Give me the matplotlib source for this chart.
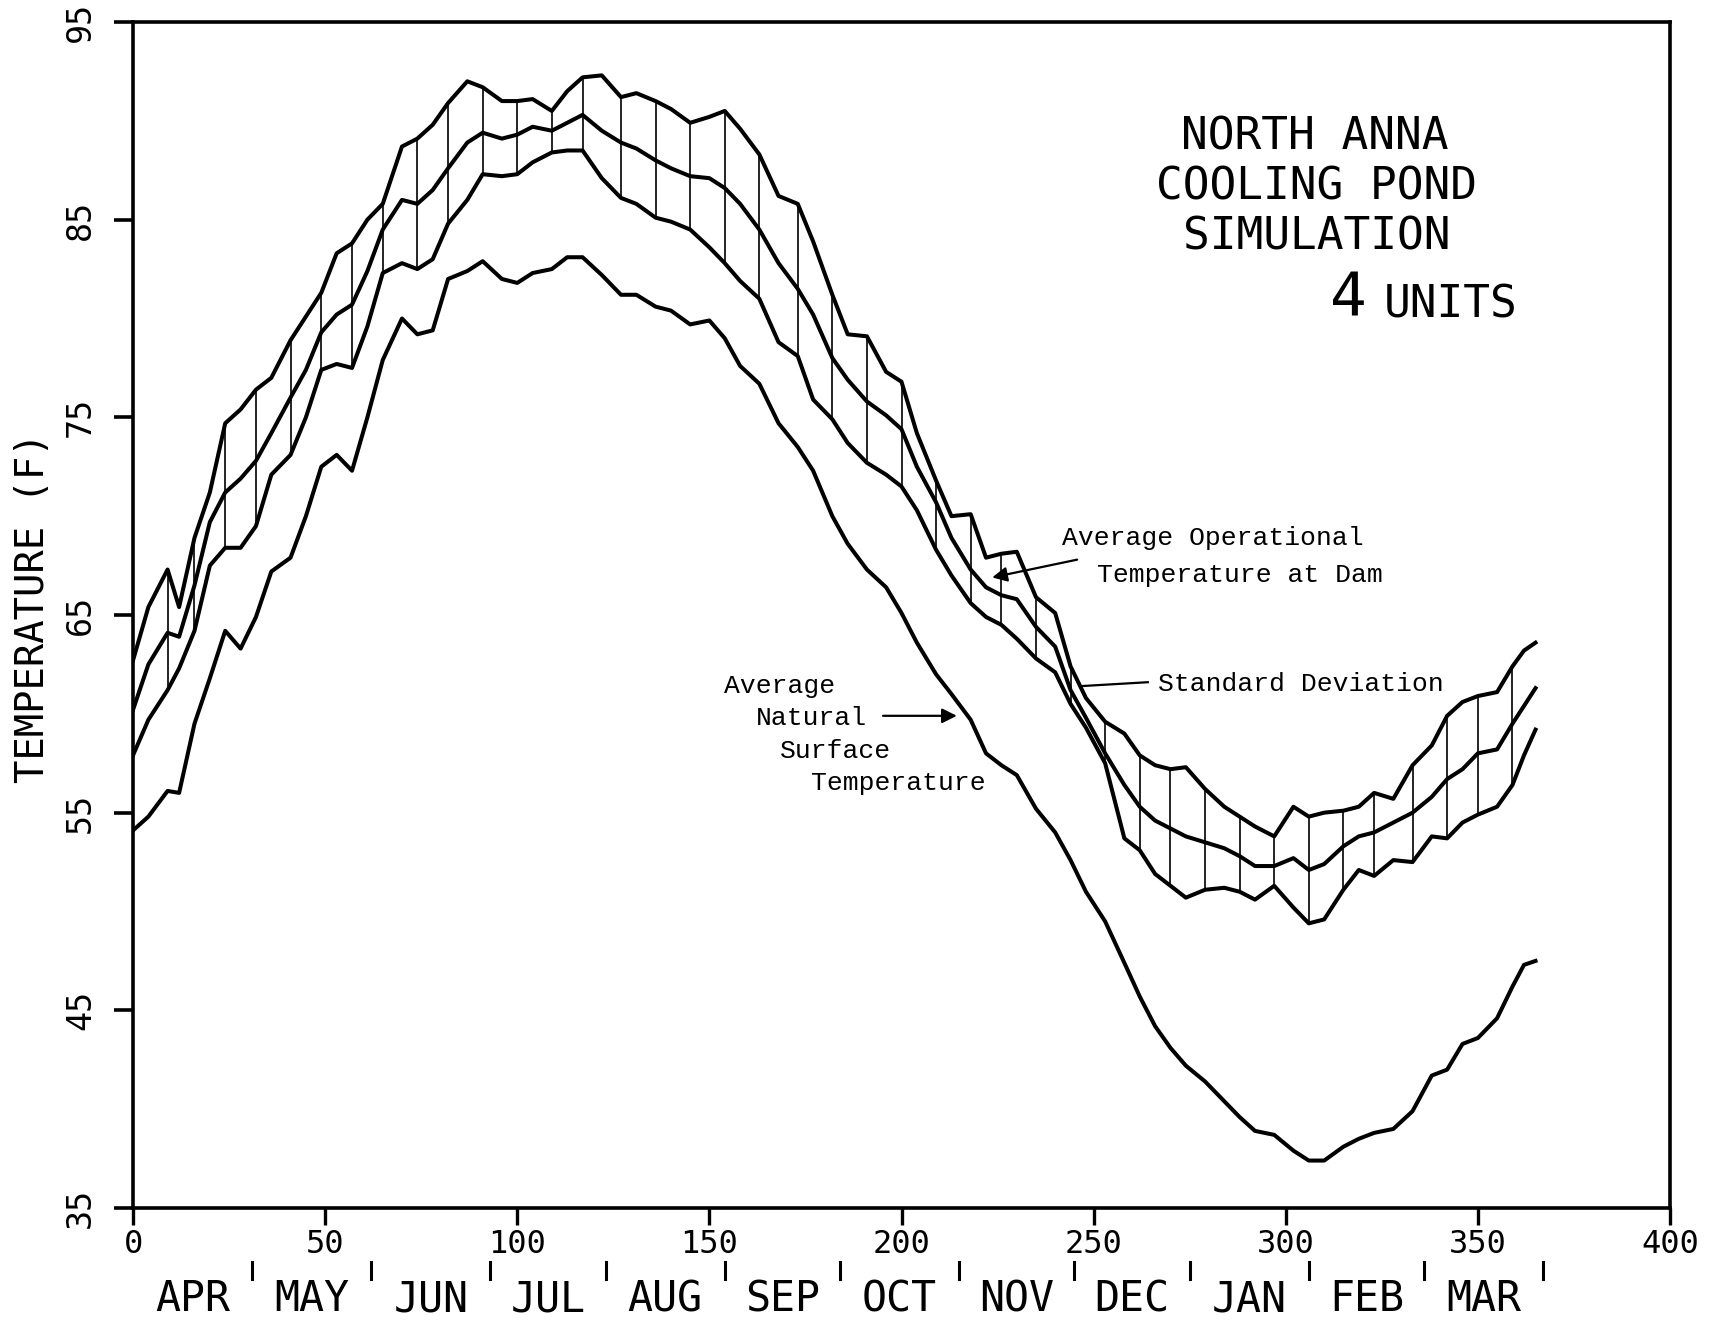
import numpy as np
import matplotlib.pyplot as plt
from matplotlib.transforms import blended_transform_factory

plt.rcParams['font.family'] = ['DejaVu Sans Mono']

# day of the water year (day 0 = 1 April)
day = [0, 4, 9, 12, 16, 20, 24, 28, 32, 36,
       41, 45, 49, 53, 57, 61, 65, 70, 74, 78,
       82, 87, 91, 96, 100, 104, 109, 113, 117, 122,
       127, 131, 136, 140, 145, 150, 154, 158, 163, 168,
       173, 177, 182, 186, 191, 196, 200, 204, 209, 213,
       218, 222, 226, 230, 235, 240, 244, 248, 253, 258,
       262, 266, 270, 274, 279, 284, 288, 292, 297, 302,
       306, 310, 315, 319, 323, 328, 333, 338, 342, 346,
       350, 355, 359, 362, 365]

# average operational temperature at dam + 1 standard deviation
upper = [62.7, 65.4, 67.3, 65.4, 68.9, 71.2, 74.7, 75.4, 76.4, 77.0,
         78.9, 80.1, 81.3, 83.3, 83.8, 85.0, 85.8, 88.7, 89.1, 89.8,
         90.9, 92.0, 91.7, 91.0, 91.0, 91.1, 90.5, 91.5, 92.2, 92.3,
         91.2, 91.4, 91.0, 90.6, 89.9, 90.2, 90.5, 89.6, 88.3, 86.2,
         85.8, 83.9, 81.2, 79.2, 79.1, 77.3, 76.8, 74.2, 71.8, 70.0,
         70.1, 67.9, 68.1, 68.2, 65.9, 65.1, 62.4, 60.8, 59.6, 59.0,
         57.9, 57.4, 57.2, 57.3, 56.2, 55.3, 54.8, 54.3, 53.8, 55.3,
         54.8, 55.0, 55.1, 55.3, 56.0, 55.7, 57.4, 58.4, 59.9, 60.6,
         60.9, 61.1, 62.4, 63.2, 63.6]

# average operational temperature at dam
mean = [60.2, 62.5, 64.1, 63.9, 66.5, 69.7, 71.2, 71.9, 72.8, 74.2,
        76.0, 77.4, 79.3, 80.2, 80.7, 82.4, 84.5, 86.0, 85.8, 86.5,
        87.6, 88.9, 89.4, 89.1, 89.3, 89.7, 89.5, 89.9, 90.3, 89.5,
        88.9, 88.6, 88.0, 87.6, 87.2, 87.1, 86.6, 85.8, 84.5, 82.8,
        81.5, 80.2, 78.0, 76.9, 75.8, 75.1, 74.4, 72.5, 70.7, 68.9,
        67.3, 66.4, 66.0, 65.8, 64.4, 63.4, 61.2, 59.8, 58.0, 56.4,
        55.3, 54.6, 54.2, 53.8, 53.5, 53.2, 52.8, 52.3, 52.3, 52.7,
        52.1, 52.4, 53.3, 53.8, 54.0, 54.5, 55.0, 55.8, 56.7, 57.2,
        58.0, 58.2, 59.5, 60.4, 61.3]

# average operational temperature at dam - 1 standard deviation
lower = [57.9, 59.7, 61.2, 62.3, 64.2, 67.5, 68.4, 68.4, 69.5, 72.1,
         73.1, 75.0, 77.4, 77.7, 77.5, 79.6, 82.3, 82.8, 82.5, 83.0,
         84.8, 86.0, 87.3, 87.2, 87.3, 87.9, 88.4, 88.5, 88.5, 87.1,
         86.1, 85.8, 85.1, 84.9, 84.5, 83.6, 82.8, 81.9, 81.0, 78.8,
         78.1, 75.9, 74.9, 73.7, 72.7, 72.1, 71.5, 70.3, 68.3, 67.0,
         65.6, 64.9, 64.5, 63.8, 62.8, 62.1, 60.5, 59.3, 57.5, 53.7,
         53.1, 51.9, 51.3, 50.7, 51.1, 51.2, 51.0, 50.6, 51.3, 50.2,
         49.4, 49.6, 51.1, 52.1, 51.8, 52.6, 52.5, 53.8, 53.7, 54.5,
         54.9, 55.3, 56.4, 57.9, 59.2]

# average natural surface temperature
natural = [54.1, 54.8, 56.1, 56.0, 59.5, 61.8, 64.2, 63.3, 64.9, 67.2,
           67.9, 70.0, 72.5, 73.1, 72.3, 75.0, 77.9, 80.0, 79.2, 79.4,
           82.0, 82.4, 82.9, 82.0, 81.8, 82.3, 82.5, 83.1, 83.1, 82.2,
           81.2, 81.2, 80.6, 80.4, 79.7, 79.9, 79.0, 77.6, 76.7, 74.7,
           73.5, 72.3, 70.0, 68.6, 67.3, 66.4, 65.1, 63.6, 62.0, 61.0,
           59.7, 58.0, 57.4, 56.9, 55.2, 54.0, 52.6, 51.0, 49.5, 47.4,
           45.7, 44.2, 43.1, 42.2, 41.4, 40.4, 39.6, 38.9, 38.7, 37.9,
           37.4, 37.4, 38.1, 38.5, 38.8, 39.0, 39.9, 41.7, 42.0, 43.3,
           43.6, 44.6, 46.2, 47.3, 47.5]

# days on which the deviation band is drawn as a bar
std_days = [9, 16, 24, 32, 41, 49, 57, 65, 74, 82, 91, 100, 109, 117,
            127, 136, 145, 154, 163, 173, 182, 191, 200, 209, 218, 226,
            235, 244, 253, 262, 270, 279, 288, 297, 306, 315, 323, 333,
            342, 350, 359]

xticks = [0, 50, 100, 150, 200, 250, 300, 350, 400]
yticks = [35, 45, 55, 65, 75, 85, 95]

months = ['APR', 'MAY', 'JUN', 'JUL', 'AUG', 'SEP',
          'OCT', 'NOV', 'DEC', 'JAN', 'FEB', 'MAR']
month_ends = [0, 31, 62, 93, 123, 154, 184, 215, 245, 275, 306, 336, 367]

fig = plt.figure(figsize=(17.1, 13.27), dpi=100)
ax = fig.add_axes([133/1710, 1 - 1208/1327, 1537/1710, 1186/1327])

lw = 2.9
ax.plot(day, upper, 'k', lw=lw)
ax.plot(day, mean, 'k', lw=lw)
ax.plot(day, lower, 'k', lw=lw)
ax.plot(day, natural, 'k', lw=lw)

d = np.array(day)
sel = np.isin(d, std_days)
ax.vlines(d[sel], np.array(lower)[sel], np.array(upper)[sel], colors='k', lw=1.2)

ax.set_xlim(0, 400)
ax.set_ylim(35, 95)
ax.set_xticks(xticks, [str(v) for v in xticks], fontsize=23)
ax.set_yticks(yticks, [str(v) for v in yticks], fontsize=24,
              rotation=90, va='center')
for s in ax.spines.values():
    s.set_linewidth(2.6)
ax.tick_params(axis='x', direction='out', length=12, width=2.4, pad=3)
ax.tick_params(axis='y', direction='out', length=14, width=2.6, pad=12)

fig.text(33/1710, 1 - 608/1327, 'TEMPERATURE (F)', rotation=90,
         ha='center', va='center', fontsize=28)

# month names under the day axis
tr = blended_transform_factory(ax.transData, fig.transFigure)
for i, m in enumerate(months):
    c = (month_ends[i] + month_ends[i + 1]) / 2
    ax.text(c, 0.021, m, transform=tr, ha='center', va='center',
            fontsize=30, clip_on=False)
for x in month_ends[1:]:
    ax.plot([x, x], [0.036, 0.049], transform=tr, color='k', lw=2.2,
            clip_on=False)

# title block
ax.text(0.769, 0.903, 'NORTH ANNA', transform=ax.transAxes, ha='center',
        va='center', fontsize=32)
ax.text(0.770, 0.861, 'COOLING POND', transform=ax.transAxes, ha='center',
        va='center', fontsize=32)
ax.text(0.770, 0.819, 'SIMULATION', transform=ax.transAxes, ha='center',
        va='center', fontsize=32)
ax.text(0.791, 0.766, '4', transform=ax.transAxes, ha='center',
        va='center', fontsize=44)
ax.text(0.857, 0.761, 'UNITS', transform=ax.transAxes, ha='center',
        va='center', fontsize=32)

# curve labels
tw = dict(family='Liberation Mono', fontsize=19, va='center', ha='left')
ax.text(241.8, 68.9, 'Average Operational', **tw)
ax.text(250.9, 67.0, 'Temperature at Dam', **tw)
ax.annotate('', xy=(223.6, 66.9), xytext=(245.7, 67.8),
            arrowprops=dict(arrowstyle='-|>', color='k', lw=1.6,
                            mutation_scale=22, shrinkA=0, shrinkB=0))

ax.text(266.8, 61.5, 'Standard Deviation', **tw)
ax.plot([264.1, 246.5], [61.6, 61.4], color='k', lw=1.6)

ax.text(153.8, 61.4, 'Average', **tw)
ax.text(162.1, 59.8, 'Natural', **tw)
ax.text(168.4, 58.1, 'Surface', **tw)
ax.text(176.4, 56.5, 'Temperature', **tw)
ax.annotate('', xy=(214.4, 59.9), xytext=(195.2, 59.9),
            arrowprops=dict(arrowstyle='-|>', color='k', lw=1.6,
                            mutation_scale=22, shrinkA=0, shrinkB=0))

fig.savefig('out.png', dpi=100)
